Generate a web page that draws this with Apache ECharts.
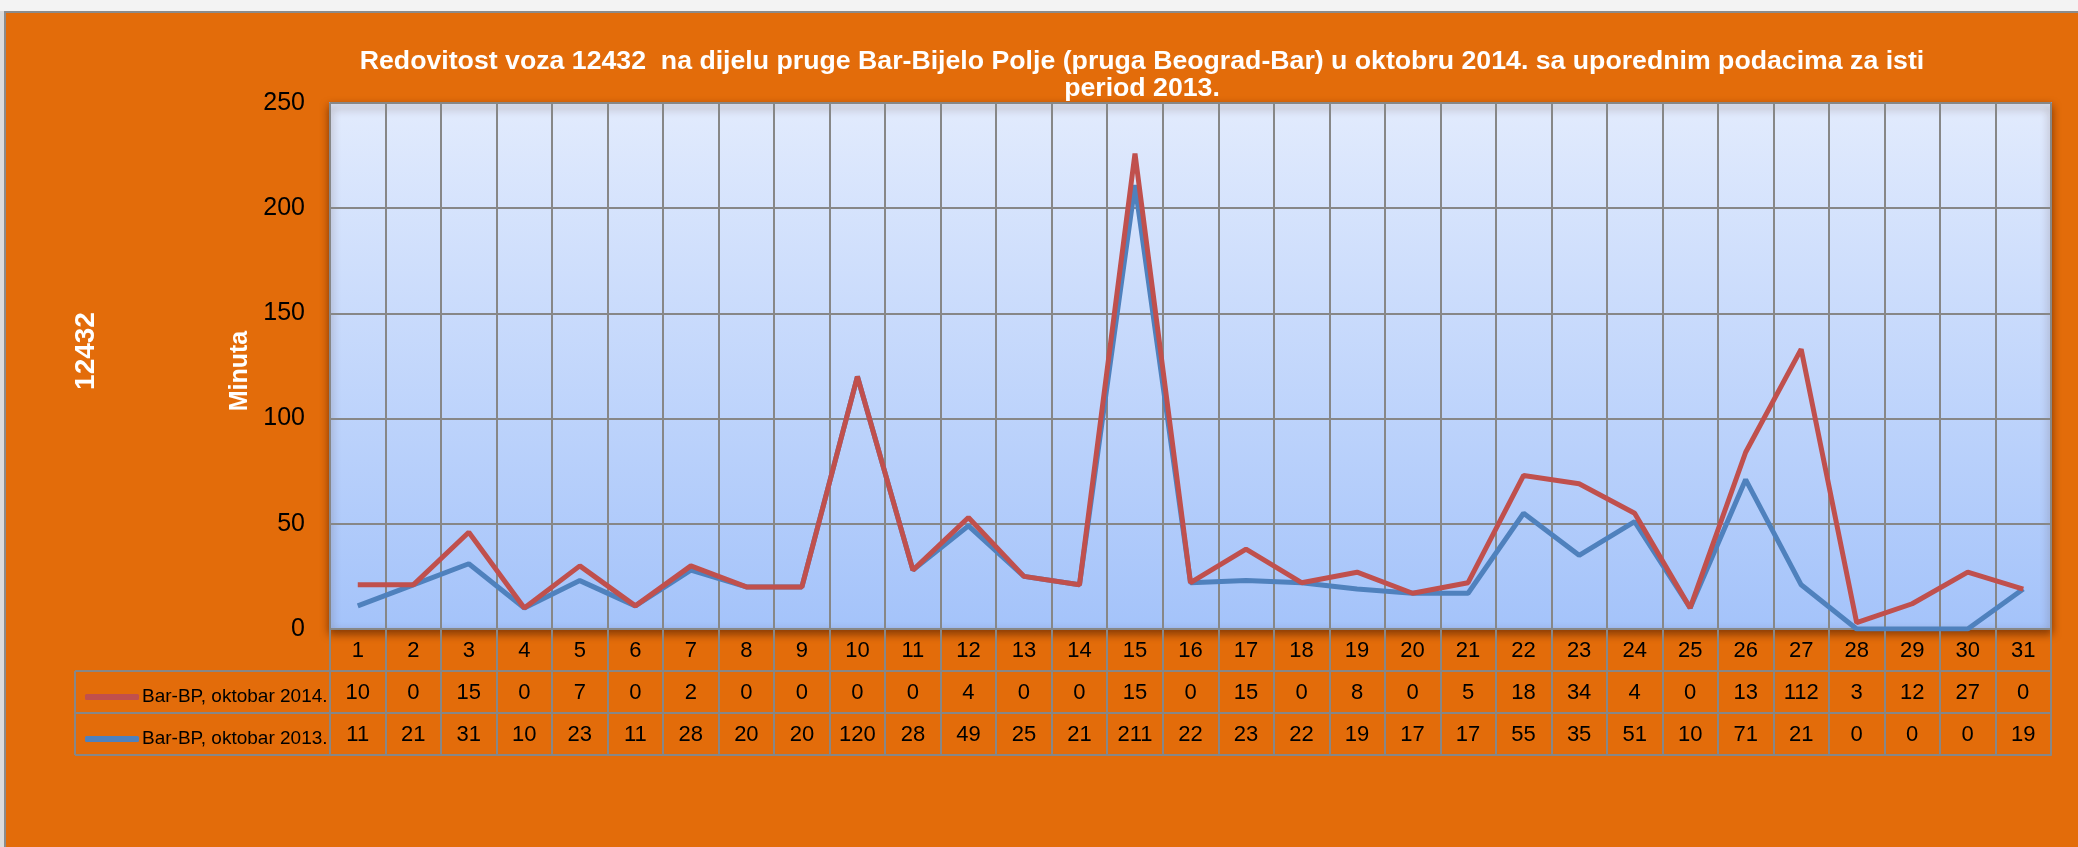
<!DOCTYPE html>
<html>
<head>
<meta charset="utf-8">
<script src="https://cdn.jsdelivr.net/npm/echarts@6/dist/echarts.min.js"></script>
<style>
html,body{margin:0;padding:0;background:#ffffff;}
#chart{width:2078px;height:847px;}
</style>
</head>
<body>
<div id="chart"></div>
<script>
// ---- data ----
var days = ['1','2','3','4','5','6','7','8','9','10','11','12','13','14','15','16','17','18','19','20','21','22','23','24','25','26','27','28','29','30','31'];
var delay2014 = [10,0,15,0,7,0,2,0,0,0,0,4,0,0,15,0,15,0,8,0,5,18,34,4,0,13,112,3,12,27,0];
var delay2013 = [11,21,31,10,23,11,28,20,20,120,28,49,25,21,211,22,23,22,19,17,17,55,35,51,10,71,21,0,0,0,19];
var yTicks = [0, 50, 100, 150, 200, 250];
var name2014 = 'Bar-BP, oktobar 2014.';
var name2013 = 'Bar-BP, oktobar 2013.';
var titleText = 'Redovitost voza 12432  na dijelu pruge Bar-Bijelo Polje (pruga Beograd-Bar) u oktobru 2014. sa uporednim podacima za isti\nperiod 2013.';
var sideLabel = '12432';
var yName = 'Minuta';

// ---- layout ----
var W = 2078, H = 847;
var gridLeft = 330, gridRight = 2051, gridTop = 103, gridBottom = 629;
var rowH = 42;
var tableLeft = 75;
var gray = '#878787';
var numFont = "'Liberation Sans Narrow','Liberation Sans',Arial,sans-serif";
var bold = "'Liberation Sans',Arial,sans-serif";

var chart = echarts.init(document.getElementById('chart'), null, {renderer:'canvas'});

function tableAxis(idx, labels, showTick) {
  return {
    type: 'category',
    data: days,
    gridIndex: 0,
    position: 'bottom',
    offset: idx * rowH,
    boundaryGap: true,
    axisLine: {show: true, lineStyle: {color: gray, width: 2}},
    axisTick: {show: !!showTick, interval: 0, length: rowH * 3, lineStyle: {color: gray, width: 2}},
    axisLabel: {
      show: !!labels, interval: 0, margin: 11, color: '#000', fontSize: 22, fontFamily: numFont,
      formatter: function (v, i) { return labels ? String(labels[i]) : ''; }
    },
    splitLine: {show: false}
  };
}

var xAxes = [
  (function(){ var a = tableAxis(0, days, true);
    a.splitLine = {show: true, interval: 0, lineStyle: {color: gray, width: 2}};
    return a; })(),
  tableAxis(1, delay2014, false),
  tableAxis(2, delay2013, false),
  tableAxis(3, null, false)
];

var legendLines = [];
for (var r = 1; r <= 3; r++) {
  legendLines.push({type:'line', z:10, shape:{x1:tableLeft, y1:gridBottom + r*rowH, x2:gridLeft, y2:gridBottom + r*rowH}, style:{stroke:gray, lineWidth:2}});
}
legendLines.push({type:'line', z:10, shape:{x1:tableLeft, y1:gridBottom + rowH, x2:tableLeft, y2:gridBottom + 3*rowH}, style:{stroke:gray, lineWidth:2}});

var option = {
  backgroundColor: '#E36C0A',
  animation: false,
  title: {
    text: titleText,
    left: 1137,
    top: 43,
    textAlign: 'center',
    textStyle: {color: '#ffffff', fontFamily: bold, fontWeight: 'bold', fontSize: 26.7, lineHeight: 27}
  },
  legend: {
    data: [name2014, name2013],
    orient: 'vertical',
    left: 80,
    top: gridBottom + rowH + rowH/2 - 10,
    itemGap: rowH - 20,
    itemWidth: 54,
    itemHeight: 6,
    icon: 'roundRect',
    textStyle: {color: '#000', fontSize: 19, fontFamily: numFont, lineHeight: 20, padding: [0,0,0,-2]},
    selectedMode: false
  },
  grid: {
    left: gridLeft, top: gridTop, width: gridRight - gridLeft, height: gridBottom - gridTop,
    show: true,
    borderColor: '#7f9cc9', borderWidth: 2,
    backgroundColor: new echarts.graphic.LinearGradient(0, 0, 0, 1, [
      {offset: 0, color: '#E2EBFD'}, {offset: 1, color: '#A4C3FA'}
    ]),
    shadowColor: 'rgba(60,20,0,0.55)', shadowBlur: 8, shadowOffsetY: 4,
    containLabel: false
  },
  xAxis: xAxes,
  yAxis: {
    type: 'value',
    min: yTicks[0], max: yTicks[yTicks.length-1], interval: 50,
    name: yName, nameLocation: 'middle', nameGap: 60,
    nameTextStyle: {color: '#ffffff', fontFamily: bold, fontWeight: 'bold', fontSize: 25, padding: [0, 10, 0, 0]},
    axisLine: {show: false},
    axisTick: {show: false},
    axisLabel: {color: '#000', fontSize: 25, fontFamily: numFont, margin: 25},
    splitLine: {show: true, lineStyle: {color: gray, width: 2}}
  },
  series: [
    {
      name: name2013, type: 'line', stack: 'total', data: delay2013,
      xAxisIndex: 0, yAxisIndex: 0,
      symbol: 'none', color: '#4F81BD',
      lineStyle: {width: 5, color: '#4F81BD'}, z: 3
    },
    {
      name: name2014, type: 'line', stack: 'total', data: delay2014,
      xAxisIndex: 0, yAxisIndex: 0,
      symbol: 'none', color: '#C0504D',
      lineStyle: {width: 5, color: '#C0504D'}, z: 4
    }
  ],
  graphic: [
    {type:'rect', z:0, shape:{x:0, y:0, width:W, height:11}, style:{fill:'#f3f3f3'}},
    {type:'rect', z:0, shape:{x:0, y:11, width:W, height:2}, style:{fill:'#8c8c8c'}},
    {type:'rect', z:0, shape:{x:0, y:11, width:4, height:H}, style:{fill:'#dcdcdc'}},
    {type:'rect', z:0, shape:{x:4, y:11, width:2, height:H}, style:{fill:'#8c8c8c'}},
    {type:'text', z:10, x: 86, y: 351, rotation: Math.PI/2,
      style:{text: sideLabel, fill:'#ffffff', font:'bold 28px ' + bold, align:'center', verticalAlign:'middle'}}
  ].concat(legendLines)
};
chart.setOption(option);
</script>
</body>
</html>
